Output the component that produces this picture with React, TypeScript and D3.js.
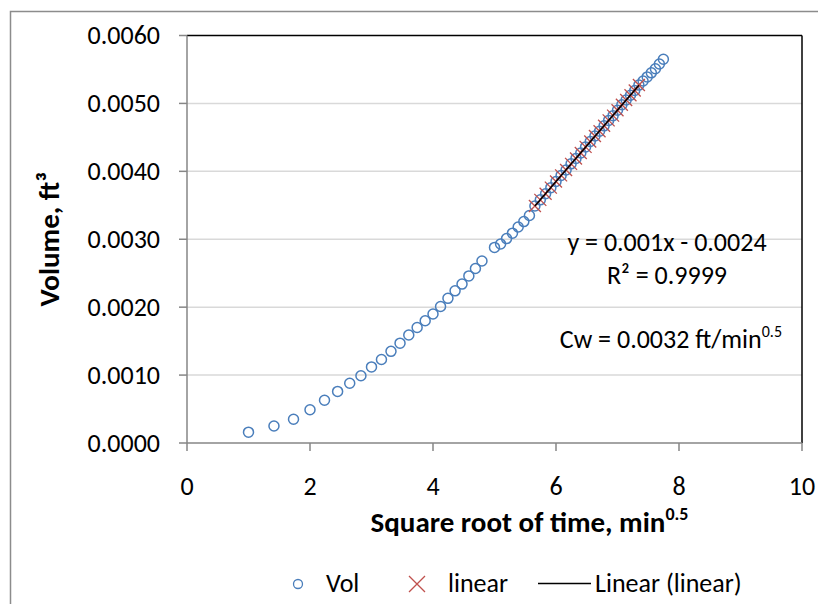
import React from "react";
import * as d3 from "d3";

// sqrt(time) values, min^0.5 (Vol series)
const volX = [
  1, 1.414, 1.732, 2, 2.236, 2.449, 2.646, 2.828, 3, 3.162, 3.317, 3.464, 3.606, 3.742, 3.873, 4,
  4.123, 4.243, 4.359, 4.472, 4.583, 4.69, 4.796, 5, 5.099, 5.196, 5.292, 5.385, 5.477, 5.568,
  5.657, 5.745, 5.831, 5.916, 6, 6.083, 6.164, 6.245, 6.325, 6.403, 6.481, 6.557, 6.633, 6.708,
  6.782, 6.856, 6.928, 7, 7.071, 7.141, 7.211, 7.28, 7.348, 7.416, 7.483, 7.55, 7.616, 7.681, 7.746,
];
// Volume, ft^3
const volY = [
  0.00016, 0.00025, 0.00035, 0.00049, 0.00063, 0.00076, 0.00088, 0.00099, 0.00112, 0.00123, 0.00135,
  0.00147, 0.00159, 0.0017, 0.0018, 0.0019, 0.00201, 0.00213, 0.00224, 0.00234, 0.00246, 0.00257,
  0.00268, 0.00288, 0.00293, 0.00301, 0.00309, 0.00318, 0.00326, 0.00335, 0.00349, 0.00358, 0.00367,
  0.00376, 0.00385, 0.00394, 0.00402, 0.00411, 0.00419, 0.00427, 0.00436, 0.00444, 0.00452, 0.00459,
  0.00467, 0.00475, 0.00482, 0.0049, 0.00498, 0.00505, 0.00512, 0.00519, 0.00527, 0.00533, 0.00539,
  0.00545, 0.00551, 0.00558, 0.00565,
];
// "linear" series (subset used for the fit)
const linX = [
  5.657, 5.745, 5.831, 5.916, 6, 6.083, 6.164, 6.245, 6.325, 6.403, 6.481, 6.557, 6.633, 6.708,
  6.782, 6.856, 6.928, 7, 7.071, 7.141, 7.211, 7.28, 7.348,
];
const linY = [
  0.00349, 0.00358, 0.00367, 0.00376, 0.00385, 0.00394, 0.00402, 0.00411, 0.00419, 0.00427, 0.00436,
  0.00444, 0.00452, 0.00459, 0.00467, 0.00475, 0.00482, 0.0049, 0.00498, 0.00505, 0.00512, 0.00519,
  0.00527,
];
const xTicks = [0, 2, 4, 6, 8, 10];
const yTicks = [0, 0.001, 0.002, 0.003, 0.004, 0.005, 0.006];

const W = 818;
const H = 604;
const FONT = "Carlito, Calibri, Lato, sans-serif";
const FS = 26;

export default function App() {
  const x = d3.scaleLinear().domain([0, 10]).range([187, 802]);
  const y = d3.scaleLinear().domain([0, 0.006]).range([443, 35.5]);

  // least squares fit of linear series
  const mx = d3.mean(linX)!;
  const my = d3.mean(linY)!;
  let sxy = 0, sxx = 0;
  linX.forEach((v, i) => { sxy += (v - mx) * (linY[i] - my); sxx += (v - mx) * (v - mx); });
  const slope = sxy / sxx;
  const icpt = my - slope * mx;
  const x1 = d3.min(linX)!, x2 = d3.max(linX)!;
  const line = d3.line<number>().x((d) => x(d)).y((d) => y(slope * d + icpt));

  const [l, r] = x.range();
  const [b, t] = y.range();
  const xs = 6;

  return (
    <svg width={W} height={H} style={{ position: "absolute", left: 0, top: 0, background: "#fff" }}>
      <rect x={0} y={0} width={W} height={H} fill="#fff" />
      <rect x={10.5} y={11.5} width={900} height={700} fill="none" stroke="#8c8c8c" strokeWidth={1.5} />
      {/* gridlines */}
      {yTicks.slice(1, -1).map((v) => (
        <line key={v} x1={l} x2={r} y1={y(v)} y2={y(v)} stroke="#d9d9d9" strokeWidth={1.5} />
      ))}
      {/* plot border top/right */}
      <line x1={l} x2={r} y1={t} y2={t} stroke="#000" strokeWidth={1.5} />
      <line x1={r} x2={r} y1={t} y2={b} stroke="#000" strokeWidth={1.5} />
      {/* axes */}
      <line x1={l} x2={l} y1={t} y2={b} stroke="#868686" strokeWidth={1.5} />
      <line x1={l} x2={r} y1={b} y2={b} stroke="#868686" strokeWidth={1.5} />
      {yTicks.map((v) => (
        <g key={v}>
          <line x1={l - 8} x2={l} y1={y(v)} y2={y(v)} stroke="#868686" strokeWidth={1.5} />
          <text x={160} y={y(v)} dy="0.33em" textAnchor="end" fontFamily={FONT} fontSize={FS} fill="#000">
            {d3.format(".4f")(v)}
          </text>
        </g>
      ))}
      {xTicks.map((v) => (
        <g key={v}>
          <line x1={x(v)} x2={x(v)} y1={b} y2={b + 8} stroke="#868686" strokeWidth={1.5} />
          <text x={x(v)} y={495} textAnchor="middle" fontFamily={FONT} fontSize={FS} fill="#000">
            {v}
          </text>
        </g>
      ))}
      {/* axis titles */}
      <text x={(l + r) / 2 + 35} y={532} textAnchor="middle" fontFamily={FONT} fontSize={29} fontWeight="bold" fill="#000">
        Square root of time, min<tspan fontSize={18} dy={-12}>0.5</tspan>
      </text>
      <text transform={`translate(59, ${(t + b) / 2}) rotate(-90)`} textAnchor="middle" fontFamily={FONT} fontSize={29} fontWeight="bold" fill="#000">
        Volume, ft³
      </text>
      {/* Vol series */}
      {volX.map((v, i) => (
        <circle key={i} cx={x(v)} cy={y(volY[i])} r={5} fill="none" stroke="#4a7ebb" strokeWidth={1.5} />
      ))}
      {/* linear series */}
      {linX.map((v, i) => {
        const cx = x(v), cy = y(linY[i]);
        return (
          <path key={i} d={`M${cx - xs},${cy - xs}L${cx + xs},${cy + xs}M${cx - xs},${cy + xs}L${cx + xs},${cy - xs}`} stroke="#c0504d" strokeWidth={1.3} fill="none" />
        );
      })}
      {/* trendline */}
      <path d={line([x1, x2])!} stroke="#000" strokeWidth={1.5} fill="none" />
      {/* annotations */}
      <text x={667} y={251} textAnchor="middle" fontFamily={FONT} fontSize={FS} fill="#000">y = 0.001x - 0.0024</text>
      <text x={667} y={284} textAnchor="middle" fontFamily={FONT} fontSize={FS} fill="#000">R² = 0.9999</text>
      <text x={782} y={348} textAnchor="end" fontFamily={FONT} fontSize={FS} fill="#000">
        Cw = 0.0032 ft/min<tspan fontSize={16} dy={-11}>0.5</tspan>
      </text>
      {/* legend */}
      <circle cx={298} cy={584} r={4.5} fill="none" stroke="#4a7ebb" strokeWidth={1.3} />
      <text x={326} y={592} fontFamily={FONT} fontSize={FS} fill="#000">Vol</text>
      <path d="M409,576L425,592M409,592L425,576" stroke="#c0504d" strokeWidth={1.3} fill="none" />
      <text x={448} y={592} fontFamily={FONT} fontSize={FS} fill="#000">linear</text>
      <line x1={538} x2={591} y1={583.5} y2={583.5} stroke="#000" strokeWidth={1.5} />
      <text x={595} y={592} fontFamily={FONT} fontSize={FS} fill="#000">Linear (linear)</text>
    </svg>
  );
}
